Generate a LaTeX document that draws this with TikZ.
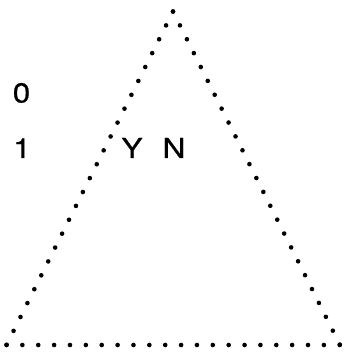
\documentclass[tikz,border=0pt]{standalone}
\usepackage{fontspec}
\setmainfont{TeX Gyre Heros}
\newfontfamily\lblfont[FakeStretch=1.15,FakeBold=0.6]{TeX Gyre Heros}
\begin{document}
\begin{tikzpicture}[x=1pt,y=1pt,
  dotline/.style={line width=4.6pt,line cap=round,dash pattern=on 0pt off #1},
  lbl/.style={anchor=base,inner sep=0pt,font=\lblfont\fontsize{27.5}{28}\selectfont}]
\useasboundingbox (0,0) rectangle (343,353);
\coordinate (A) at (173,341.5);
\coordinate (B) at (6.5,8);
\coordinate (C) at (340,8);
\draw[dotline=15.52pt] (A) -- (B);
\draw[dotline=15.52pt] (A) -- (C);
\draw[dotline=15.87pt] (B) -- (C);
\node[lbl] (zero) at (21.5,250.5) {0};
\node[lbl] (one) at (22,195) {1};
\node[lbl] (y) at (132,195) {Y};
\node[lbl] (n) at (174,195) {N};
\end{tikzpicture}
\end{document}
